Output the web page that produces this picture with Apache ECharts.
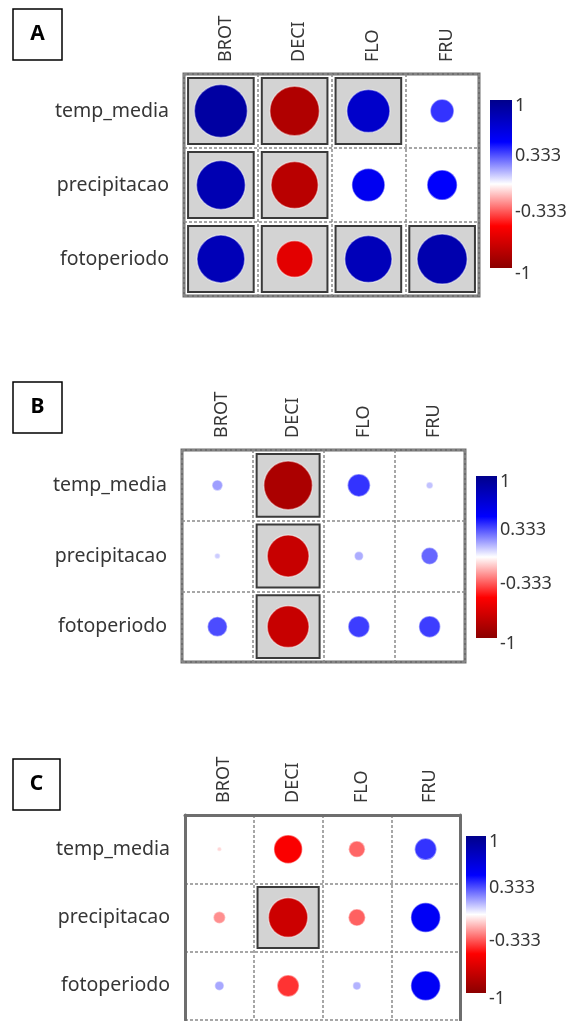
<!DOCTYPE html>
<html>
<head>
<meta charset="utf-8">
<script src="https://cdn.jsdelivr.net/npm/echarts@6/dist/echarts.min.js"></script>
<style>
  html, body { margin: 0; padding: 0; background: #fff; }
  #chart { width: 574px; height: 1021px; }
</style>
</head>
<body>
<div id="chart"></div>
<script>
// ---------------- DATA ----------------
const cols = ['BROT', 'DECI', 'FLO', 'FRU'];
const rows = ['temp_media', 'precipitacao', 'fotoperiodo'];
const panelLetters = ['A', 'B', 'C'];

// correlation values, one array per row (temp_media, precipitacao, fotoperiodo)
const valuesA = [
  [0.90, -0.84, 0.73, 0.40],
  [0.83, -0.80, 0.56, 0.51],
  [0.81, -0.62, 0.80, 0.85]
];
const valuesB = [
  [0.19, -0.86, 0.40, 0.12],
  [0.10, -0.74, 0.16, 0.30],
  [0.35, -0.74, 0.38, 0.38]
];
const valuesC = [
  [-0.08, -0.52, -0.30, 0.40],
  [-0.22, -0.72, -0.31, 0.54],
  [0.17, -0.40, 0.15, 0.54]
];
// significance flags (1 = highlighted cell)
const sigA = [[1, 1, 1, 0], [1, 1, 0, 0], [1, 1, 1, 1]];
const sigB = [[0, 1, 0, 0], [0, 1, 0, 0], [0, 1, 0, 0]];
const sigC = [[0, 0, 0, 0], [0, 1, 0, 0], [0, 0, 0, 0]];

const legendTicks = [-1, -0.333, 0.333, 1];

// ---------------- LAYOUT / STYLE ----------------
const FONT = 'Noto Sans';
const TXT = '#363636';
const palette = ['#8B0000', '#FF0000', '#FFFFFF', '#0000FF', '#00008B'];
const layouts = [
  { grid: { left: 184, top: 74, width: 295, height: 222 }, cb: { left: 490, top: 100, width: 22, height: 168 }, box: { x: 13, y: 9, w: 49, h: 51 }, fullBorder: true },
  { grid: { left: 182, top: 450, width: 283, height: 212 }, cb: { left: 476, top: 476, width: 21, height: 162 }, box: { x: 13, y: 382, w: 49, h: 51 }, fullBorder: true },
  { grid: { left: 185, top: 815, width: 275, height: 205 }, cb: { left: 466, top: 836, width: 20, height: 157 }, box: { x: 13, y: 759, w: 47, h: 51 }, fullBorder: false }
];
const panels = [
  { vals: valuesA, sig: sigA },
  { vals: valuesB, sig: sigB },
  { vals: valuesC, sig: sigC }
];

const option = {
  animation: false,
  backgroundColor: '#ffffff',
  grid: [], xAxis: [], yAxis: [], series: [], visualMap: [], graphic: []
};

const splitStyle = { show: true, lineStyle: { type: [3, 2], color: '#8a8a8a', width: 1.5 } };
const borderLine = { color: '#6e6e6e', width: 3 };
const circleSeriesIdx = [];

panels.forEach((p, i) => {
  const L = layouts[i];
  const gMat = option.grid.length;
  option.grid.push(Object.assign({}, L.grid, L.fullBorder
    ? { show: true, borderColor: borderLine.color, borderWidth: borderLine.width }
    : { show: false }));
  const gCb = option.grid.length;
  option.grid.push(Object.assign({}, L.cb));

  const xMat = option.xAxis.length;
  option.xAxis.push({
    type: 'category', gridIndex: gMat, position: 'top', data: cols, boundaryGap: true,
    axisLine: L.fullBorder ? { show: false } : { show: true, lineStyle: borderLine },
    axisTick: { show: false },
    axisLabel: {
      rotate: -90, margin: 12, fontSize: 18, color: TXT, fontFamily: FONT,
      formatter: v => '{c|' + v + '}',
      rich: { c: { padding: [9, 0, 0, 0], fontSize: 18, color: TXT, fontFamily: FONT } }
    },
    splitLine: splitStyle
  });
  const xCb = option.xAxis.length;
  option.xAxis.push({ type: 'value', gridIndex: gCb, min: 0, max: 1, show: false });

  const yMat = option.yAxis.length;
  option.yAxis.push({
    type: 'category', gridIndex: gMat, inverse: true, data: rows, boundaryGap: true,
    axisLine: L.fullBorder ? { show: false } : { show: true, lineStyle: borderLine },
    axisTick: { show: false },
    axisLabel: { margin: 15, fontSize: 19.5, color: TXT, fontFamily: FONT },
    splitLine: splitStyle
  });
  if (!L.fullBorder) {
    option.yAxis.push({
      type: 'category', gridIndex: gMat, inverse: true, data: rows, position: 'right',
      axisLine: { show: true, lineStyle: borderLine },
      axisTick: { show: false }, axisLabel: { show: false }, splitLine: { show: false }
    });
  }
  const yCb = option.yAxis.length;
  option.yAxis.push({
    type: 'value', gridIndex: gCb, min: -1, max: 1, position: 'right',
    axisLine: { show: false }, axisTick: { show: false }, splitLine: { show: false },
    axisLabel: {
      customValues: legendTicks, margin: 3, fontSize: 18, color: TXT, fontFamily: FONT,
      formatter: v => Math.abs(v) === 1 ? '{e|' + v + '}' : String(v),
      rich: { e: { padding: [12, 0, 0, 0], fontSize: 18, color: TXT, fontFamily: FONT } }
    }
  });

  // significance boxes
  const sigData = [];
  p.sig.forEach((r, ri) => r.forEach((s, ci) => { if (s) sigData.push([ci, ri]); }));
  option.series.push({
    type: 'custom', xAxisIndex: xMat, yAxisIndex: yMat, data: sigData, silent: true,
    encode: { x: 0, y: 1 }, z: 2,
    renderItem: (params, api) => {
      const c = api.coord([api.value(0), api.value(1)]);
      const s = api.size([1, 1]);
      const w = s[0] * 0.89, h = s[1] * 0.89;
      return { type: 'rect', shape: { x: c[0] - w / 2, y: c[1] - h / 2, width: w, height: h },
        style: { fill: '#d3d3d3', stroke: '#3a3a3a', lineWidth: 2 } };
    }
  });

  // correlation circles
  const circData = [];
  p.vals.forEach((r, ri) => r.forEach((v, ci) => circData.push([ci, ri, v])));
  circleSeriesIdx.push(option.series.length);
  option.series.push({
    type: 'custom', xAxisIndex: xMat, yAxisIndex: yMat, data: circData, silent: true,
    encode: { x: 0, y: 1 }, z: 3,
    renderItem: (params, api) => {
      const c = api.coord([api.value(0), api.value(1)]);
      const s = api.size([1, 1]);
      const rad = Math.min(s[0], s[1]) * 0.4 * Math.abs(api.value(2));
      return { type: 'circle', shape: { cx: c[0], cy: c[1], r: rad },
        style: { fill: api.visual('color'), stroke: 'rgba(255,255,255,0.45)', lineWidth: 1.5 } };
    }
  });

  // colour bar
  option.series.push({
    type: 'custom', xAxisIndex: xCb, yAxisIndex: yCb, data: [[0, 1, -1]], silent: true,
    encode: { x: 0, y: [1, 2] },
    renderItem: (params, api) => {
      const top = api.coord([0, api.value(1)])[1];
      const bot = api.coord([0, api.value(2)])[1];
      const cs = params.coordSys;
      const stops = palette.slice().reverse().map((col, k, arr) => ({ offset: k / (arr.length - 1), color: col }));
      return { type: 'rect', shape: { x: cs.x, y: top, width: cs.width, height: bot - top },
        style: { fill: new echarts.graphic.LinearGradient(0, 0, 0, 1, stops) } };
    }
  });

  // panel letter
  option.graphic.push({
    type: 'rect', shape: { x: L.box.x, y: L.box.y, width: L.box.w, height: L.box.h },
    style: { fill: '#fff', stroke: '#000', lineWidth: 1.5 }
  });
  option.graphic.push({
    type: 'text', x: L.box.x + L.box.w / 2, y: L.box.y + L.box.h / 2,
    style: { text: panelLetters[i], fontSize: 21, fontWeight: 'bold', fill: '#000', fontFamily: FONT,
      align: 'center', verticalAlign: 'middle' }
  });
});

option.visualMap.push({
  type: 'continuous', show: false, min: -1, max: 1, dimension: 2,
  seriesIndex: circleSeriesIdx, inRange: { color: palette }
});

const chart = echarts.init(document.getElementById('chart'));
chart.setOption(option);
</script>
</body>
</html>
